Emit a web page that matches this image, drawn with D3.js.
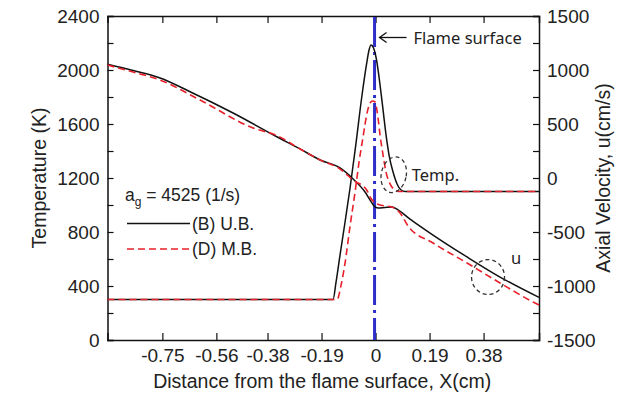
<!DOCTYPE html>
<html>
<head>
<meta charset="utf-8">
<script src="https://cdn.jsdelivr.net/npm/d3@7"></script>
<style>
  html, body { margin: 0; padding: 0; background: #fff; }
  svg { display: block; }
  .tick text { font-family: "Liberation Sans", Arial, sans-serif; font-size: 19px; fill: #222; }
  .title { font-family: "Liberation Sans", Arial, sans-serif; font-size: 19.5px; fill: #222; }
  .legend { font-family: "Liberation Sans", Arial, sans-serif; font-size: 17.5px; fill: #222; }
  .note { font-family: "Noto Sans", "Open Sans", sans-serif; font-size: 16.5px; fill: #222; }
</style>
</head>
<body>
<svg id="chart" width="625" height="394"></svg>
<script>
// Distance from the flame surface X (cm) and profiles for the two boundary cases
const tempUBx = [-0.943, -0.1495, -0.1389, -0.1249, -0.1073, -0.0897, -0.0696, -0.0485, -0.0310, -0.0229, -0.0158, -0.0070, 0.0035, 0.0158, 0.0264, 0.0369, 0.0475, 0.0616, 0.0756, 0.0897, 0.1038, 0.575];
const tempUB  = [300, 300, 430, 630, 874, 1126, 1444, 1800, 2052, 2148, 2185, 2163, 2074, 1889, 1704, 1519, 1370, 1244, 1156, 1111, 1100, 1100];

const tempMBx = [-0.943, -0.1354, -0.1213, -0.1073, -0.0897, -0.0721, -0.0580, -0.0440, -0.0299, -0.0193, -0.0106, -0.0018, 0.0088, 0.0158, 0.0264, 0.0369, 0.0510, 0.0686, 0.0862, 0.575];
const tempMB  = [300, 300, 407, 570, 844, 1096, 1319, 1504, 1681, 1756, 1770, 1763, 1644, 1519, 1370, 1244, 1156, 1111, 1100, 1100];

const velUBx = [-0.943, -0.8531, -0.7580, -0.6525, -0.5012, -0.3475, -0.2656, -0.1952, -0.1249, -0.0791, -0.0369, -0.0193, -0.0053, 0.0088, 0.0334, 0.0580, 0.0791, 0.1213, 0.2022, 0.3218, 0.4379, 0.575];
const velUB  = [1053, 995, 926, 799, 602, 382, 269, 167, 93, -9, -130, -204, -259, -278, -273, -269, -296, -380, -528, -731, -917, -1106];

const velMBx = [-0.943, -0.8531, -0.7580, -0.6173, -0.4309, -0.3475, -0.2656, -0.1952, -0.1249, -0.0791, -0.0310, -0.0193, 0.0053, 0.0334, 0.0510, 0.0756, 0.0862, 0.1143, 0.2022, 0.3218, 0.4379, 0.5540, 0.575];
const velMB  = [1046, 981, 907, 722, 463, 394, 269, 167, 83, -19, -111, -176, -241, -259, -264, -296, -324, -444, -602, -787, -972, -1148, -1176];

const xTicks = [-0.75, -0.56, -0.38, -0.19, 0, 0.19, 0.38];
const tempTicks = d3.range(0, 2401, 200);
const velTicks = d3.range(-1500, 1501, 250);
const seriesNames = ["(B) U.B.", "(D) M.B."];

const svg = d3.select("#chart");
const plotL = 107.5, plotR = 539, plotT = 16, plotB = 340;

const x = d3.scaleLinear().domain([-0.943, 0.575]).range([plotL, plotR]);
const yT = d3.scaleLinear().domain([0, 2400]).range([plotB, plotT]);
const yU = d3.scaleLinear().domain([-1500, 1500]).range([plotB, plotT]);

const fmtX = d => d === 0 ? "0" : d.toFixed(2);

// axes with inward ticks
const gB = svg.append("g").attr("transform", `translate(0,${plotB})`)
  .call(d3.axisBottom(x).tickValues(xTicks).tickSize(-7).tickPadding(9).tickFormat(fmtX));
const gT = svg.append("g").attr("transform", `translate(0,${plotT})`)
  .call(d3.axisTop(x).tickValues(xTicks).tickSize(-7).tickFormat(""));
const gL = svg.append("g").attr("transform", `translate(${plotL},0)`)
  .call(d3.axisLeft(yT).tickValues(tempTicks).tickSize(-6).tickPadding(8)
    .tickFormat(d => d % 400 === 0 ? d : ""));
const gR = svg.append("g").attr("transform", `translate(${plotR},0)`)
  .call(d3.axisRight(yU).tickValues(velTicks).tickSize(-6).tickPadding(8)
    .tickFormat(d => d % 500 === 0 ? d : ""));

[gB, gT, gL, gR].forEach(g => {
  g.select(".domain").attr("stroke", "#111").attr("stroke-width", 1.5);
  g.selectAll(".tick line").attr("stroke", "#111").attr("stroke-width", 1.2);
});
gB.selectAll(".tick text").attr("dy", "0.71em");

// flame surface marker
svg.append("line")
  .attr("x1", x(0) - 1).attr("x2", x(0) - 1)
  .attr("y1", plotT + 1).attr("y2", plotB)
  .attr("stroke", "#2f2fc8").attr("stroke-width", 3)
  .attr("stroke-dasharray", "30,5,3,5");

const line = (xs, ys, yScale) => d3.line()
  .x((d, i) => x(xs[i]))
  .y(d => yScale(d))
  .curve(d3.curveMonotoneX)(ys);

const black = "#111", red = "#e8202a";

svg.append("path").attr("d", line(tempUBx, tempUB, yT))
  .attr("fill", "none").attr("stroke", black).attr("stroke-width", 1.5);
svg.append("path").attr("d", line(velUBx, velUB, yU))
  .attr("fill", "none").attr("stroke", black).attr("stroke-width", 1.5);
svg.append("path").attr("d", line(tempMBx, tempMB, yT))
  .attr("fill", "none").attr("stroke", red).attr("stroke-width", 1.6).attr("stroke-dasharray", "7,4");
svg.append("path").attr("d", line(velMBx, velMB, yU))
  .attr("fill", "none").attr("stroke", red).attr("stroke-width", 1.6).attr("stroke-dasharray", "7,4");

// axis titles
svg.append("text").attr("class", "title")
  .attr("x", (plotL + plotR) / 2 - 1).attr("y", 388).attr("text-anchor", "middle")
  .text("Distance from the flame surface, X(cm)");
svg.append("text").attr("class", "title")
  .attr("transform", `translate(46,${(plotT + plotB) / 2}) rotate(-90)`)
  .attr("text-anchor", "middle").text("Temperature (K)");
svg.append("text").attr("class", "title")
  .attr("transform", `translate(610,${(plotT + plotB) / 2}) rotate(-90)`)
  .attr("text-anchor", "middle").text("Axial Velocity, u(cm/s)");

// strain-rate label and legend
const ag = svg.append("text").attr("class", "legend").attr("x", 125).attr("y", 201);
ag.append("tspan").text("a");
ag.append("tspan").attr("font-size", "12px").attr("dy", 5).text("g");
ag.append("tspan").attr("dy", -5).text(" = 4525 (1/s)");

const legend = svg.append("g");
[[black, null], [red, "7,4"]].forEach(([c, dash], i) => {
  const yy = 223.5 + i * 25.5;
  legend.append("line").attr("x1", 127).attr("x2", 190).attr("y1", yy).attr("y2", yy)
    .attr("stroke", c).attr("stroke-width", 1.6).attr("stroke-dasharray", dash);
  legend.append("text").attr("class", "legend").attr("x", 192).attr("y", yy + 6)
    .text(seriesNames[i]);
});

// annotations
const ay = 37.5;
svg.append("line").attr("x1", x(0) + 4).attr("x2", x(0) + 31).attr("y1", ay).attr("y2", ay)
  .attr("stroke", "#111").attr("stroke-width", 1.3);
svg.append("path")
  .attr("d", `M${x(0) + 11},${ay - 5} L${x(0) + 4},${ay} L${x(0) + 11},${ay + 5}`)
  .attr("fill", "none").attr("stroke", "#111").attr("stroke-width", 1.3);
svg.append("text").attr("class", "note").attr("x", x(0) + 38).attr("y", 44).text("Flame surface");

svg.append("ellipse")
  .attr("transform", `translate(${x(0.064)},${yT(1224)}) rotate(12)`)
  .attr("rx", 12.5).attr("ry", 18)
  .attr("fill", "none").attr("stroke", "#333").attr("stroke-width", 1.3).attr("stroke-dasharray", "4,3");
svg.append("text").attr("class", "note").attr("x", x(0.064) + 18).attr("y", 181).text("Temp.");

svg.append("ellipse")
  .attr("cx", x(0.3957)).attr("cy", yU(-917))
  .attr("rx", 16.5).attr("ry", 17.5)
  .attr("fill", "none").attr("stroke", "#333").attr("stroke-width", 1.3).attr("stroke-dasharray", "4,3");
svg.append("text").attr("class", "note").attr("x", x(0.3957) + 23).attr("y", 264).text("u");
</script>
</body>
</html>
